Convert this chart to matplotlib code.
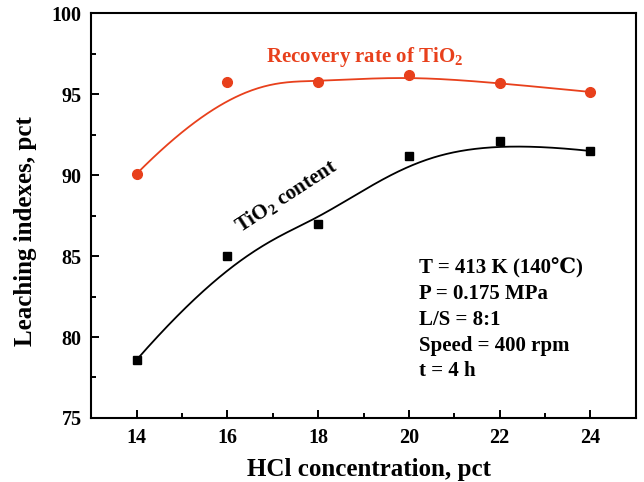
import numpy as np
import matplotlib
matplotlib.use("Agg")
import matplotlib.pyplot as plt
from matplotlib.ticker import MultipleLocator

plt.rcParams['font.family'] = ['Liberation Serif', 'DejaVu Serif']
plt.rcParams['font.weight'] = 'bold'
plt.rcParams['mathtext.fontset'] = 'custom'
plt.rcParams['mathtext.rm'] = 'Liberation Serif:bold'
plt.rcParams['mathtext.it'] = 'Liberation Serif:bold'
plt.rcParams['mathtext.bf'] = 'Liberation Serif:bold'

hcl = [14, 16, 18, 20, 22, 24]
recovery = [90.1, 95.75, 95.75, 96.2, 95.7, 95.15]
tio2_content = [78.6, 85.0, 87.0, 91.2, 92.1, 91.5]
conditions = ["T = 413 K (140\u2103)", "P = 0.175 MPa", "L/S = 8:1",
              "Speed = 400 rpm", "t = 4 h"]

RED = '#e8401c'


def bspline(xs, ys, deg=3, num=300):
    P = np.column_stack([xs, ys]).astype(float)
    n = len(P)
    knots = np.concatenate([np.zeros(deg), np.linspace(0, 1, n - deg + 1), np.ones(deg)])
    t = np.linspace(0, 1, num)
    t[-1] = 1 - 1e-12

    def N(i, k, t):
        if k == 0:
            return np.where((knots[i] <= t) & (t < knots[i + 1]), 1.0, 0.0)
        a = 0.0
        d1 = knots[i + k] - knots[i]
        if d1 > 0:
            a = (t - knots[i]) / d1 * N(i, k - 1, t)
        b = 0.0
        d2 = knots[i + k + 1] - knots[i + 1]
        if d2 > 0:
            b = (knots[i + k + 1] - t) / d2 * N(i + 1, k - 1, t)
        return a + b

    B = np.column_stack([N(i, deg, t) for i in range(n)])
    C = B @ P
    return C[:, 0], C[:, 1]


fig = plt.figure(figsize=(6.44, 4.82), dpi=100)
ax = fig.add_axes([0.142, 0.133, 0.845, 0.839])

rx, ry = bspline(hcl, recovery)
ax.plot(rx, ry, color=RED, lw=1.3)
ax.plot(hcl, recovery, 'o', color=RED, ms=7)

bx, by = bspline(hcl, tio2_content)
ax.plot(bx, by, color='black', lw=1.3)
ax.plot(hcl, tio2_content, 's', color='black', ms=6)

ax.set_xlim(13, 25)
ax.set_ylim(75, 100)
ax.xaxis.set_major_locator(MultipleLocator(2))
ax.xaxis.set_minor_locator(MultipleLocator(1))
ax.yaxis.set_major_locator(MultipleLocator(5))
ax.yaxis.set_minor_locator(MultipleLocator(2.5))
ax.tick_params(which='major', direction='in', length=6, width=1.4, labelsize=14.5, pad=7)
ax.tick_params(which='minor', direction='in', length=3.5, width=1.4)
for lab in ax.get_xticklabels() + ax.get_yticklabels():
    lab.set_fontweight('bold')
for s in ax.spines.values():
    s.set_linewidth(1.5)

ax.set_xlabel('HCl concentration, pct', fontsize=18, fontweight='bold')
ax.set_ylabel('Leaching indexes, pct', fontsize=18, fontweight='bold')
ax.xaxis.set_label_coords(0.5106, -0.099)
ax.yaxis.set_label_coords(-0.100, 0.462)

ax.text(16.85, 97.0, 'Recovery rate of TiO$_2$', color=RED, fontsize=15,
        fontweight='bold', ha='left', va='baseline')
ax.text(16.28, 86.45, 'TiO$_2$ content', color='black', fontsize=15,
        fontweight='bold', ha='left', va='baseline', rotation=33,
        rotation_mode='anchor')

for i, line in enumerate(conditions):
    ax.text(20.23, 83.9 - i * 1.58, line, fontsize=15, fontweight='bold',
            ha='left', va='baseline')

fig.savefig('out.png', dpi=100)
